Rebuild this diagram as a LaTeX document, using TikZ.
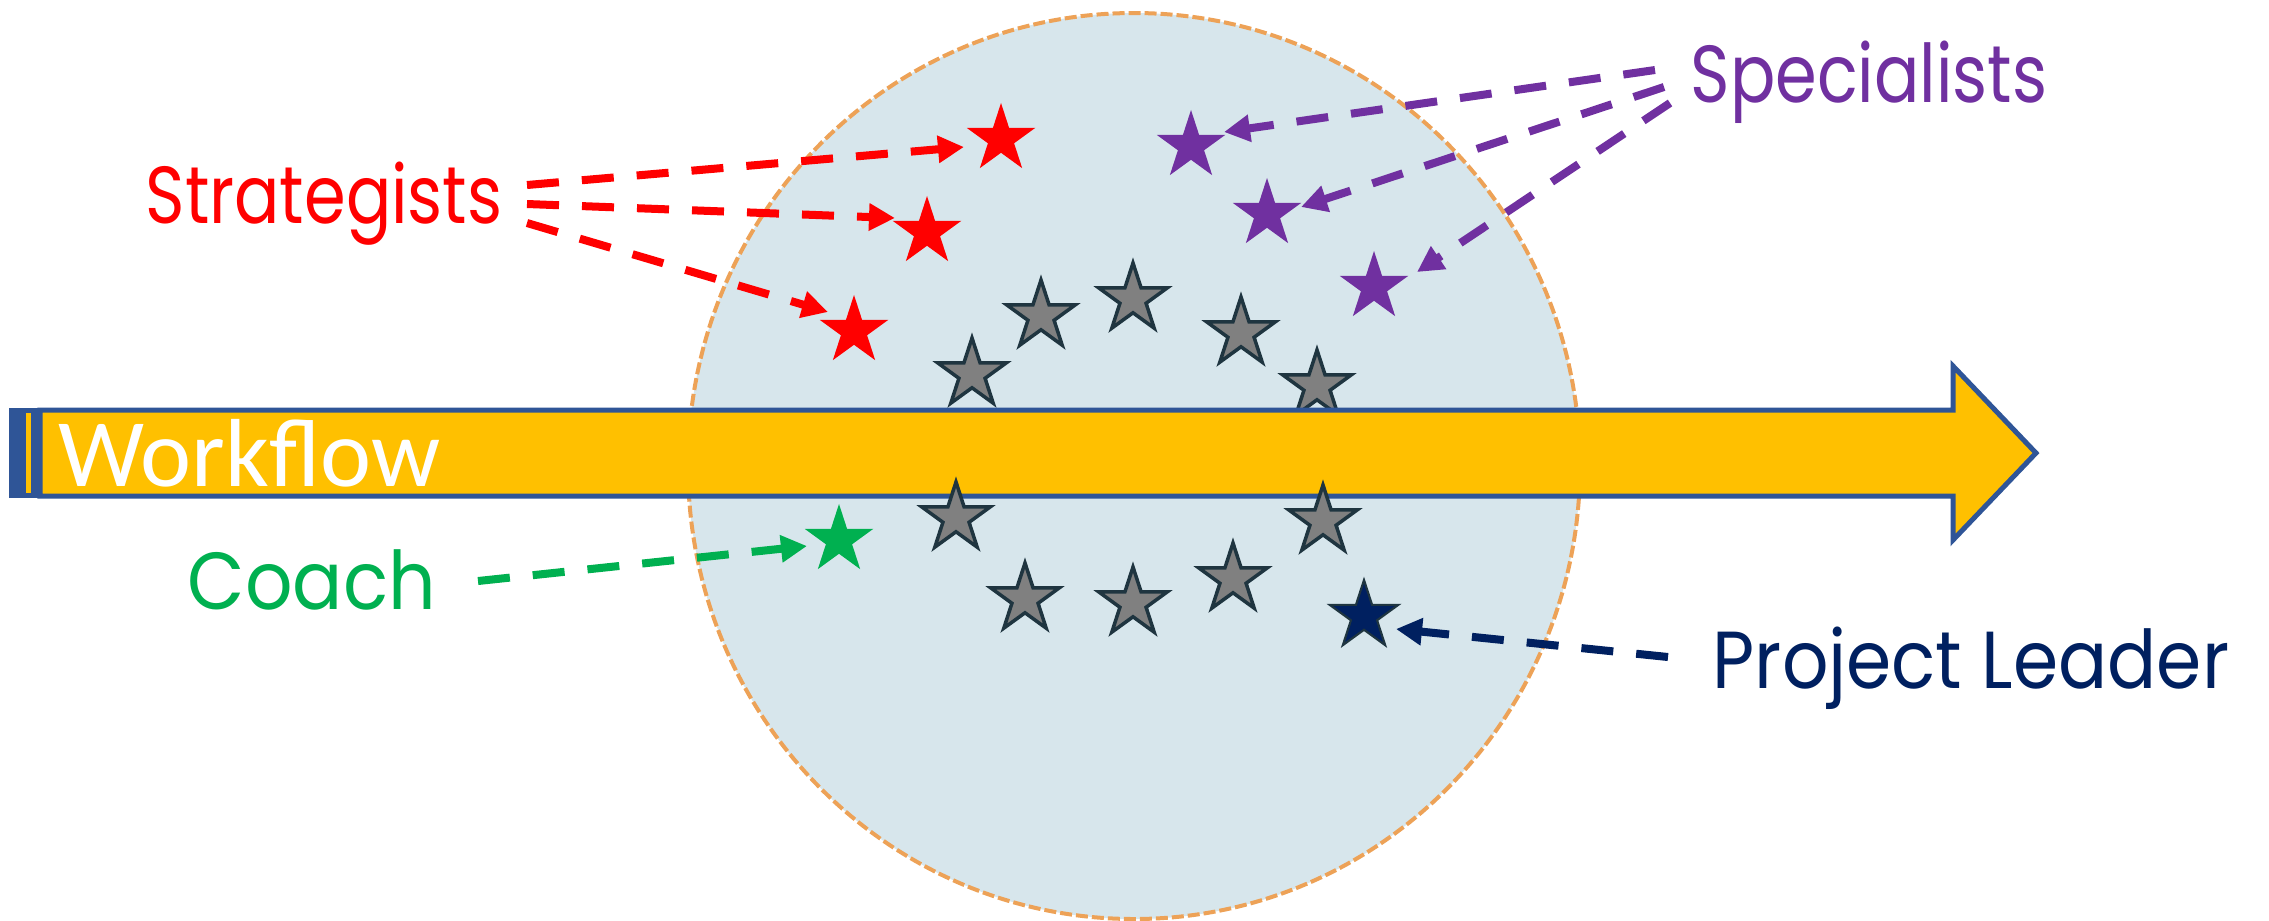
\documentclass[tikz,border=0pt]{standalone}
\usepackage{fontspec}
\newfontfamily\rolefont{Poppins}
\newfontfamily\flowfont{Carlito}
\usetikzlibrary{arrows.meta,shapes.geometric}
\definecolor{teamfill}{HTML}{D7E6EC}
\definecolor{teamedge}{HTML}{EDA257}
\definecolor{flowfill}{HTML}{FFC000}
\definecolor{flowedge}{HTML}{2F5597}
\definecolor{starfill}{HTML}{808080}
\definecolor{staredge}{HTML}{1F3540}
\definecolor{stratred}{HTML}{FF0000}
\definecolor{specpurple}{HTML}{7030A0}
\definecolor{coachgreen}{HTML}{00B050}
\definecolor{leadnavy}{HTML}{002060}
\tikzset{
  every picture/.style={line join=round, line cap=round, >=Stealth},
  star5/.style={star, star points=5, star point ratio=2.618, inner sep=0pt, minimum size=0.72cm},
  greystar/.style={star5, fill=starfill, draw=staredge, line width=1pt, line join=miter},
  rolestar/.style={star5, draw=none},
  flowarrow/.style={fill=flowfill, draw=flowedge, line width=0.05cm, line join=miter},
  flowtext/.style={inner sep=0pt, anchor=base west, text=white, font=\flowfont\fontsize{27.5}{32}\selectfont},
  rolelabel/.style={inner sep=0pt, anchor=base west, font=\rolefont\fontsize{23}{27}\selectfont},
  pointer/.style={-{Triangle[length=0.26cm,width=0.26cm]}, line width=0.08cm, line cap=butt,
    dash pattern=on 0.32cm off 0.23cm},
}
\newcommand{\slim}[2][0.83]{\scalebox{#1}[1]{#2}}

\begin{document}
\begin{tikzpicture}[x=0.01cm,y=-0.01cm]
\useasboundingbox (0,0) rectangle (2269,920);
% team
\draw[fill=teamfill, draw=teamedge, line width=0.04cm, line cap=butt, dash pattern=on 0.12cm off 0.04cm]
  (1134,466) ellipse (446 and 453);
% stars above the flow
\foreach \x/\y [count=\i] in {972/374, 1041/316, 1133/299, 1241/333, 1317/386} {\node[greystar] (u\i) at (\x,\y) {};}
% roles
\node[rolestar, fill=stratred] (r1) at (1001,139) {};
\node[rolestar, fill=stratred] (r2) at (927,232) {};
\node[rolestar, fill=stratred] (r3) at (854,331) {};
\node[rolestar, fill=specpurple] (p1) at (1191,146) {};
\node[rolestar, fill=specpurple] (p2) at (1267,214) {};
\node[rolestar, fill=specpurple] (p3) at (1374,287) {};
\node[rolestar, fill=coachgreen] (c1) at (839,540) {};
\node[star5, fill=leadnavy, draw=staredge, line width=0.6pt, line join=miter] (l1) at (1364,616) {};
% workflow
\fill[flowedge] (9,408) rectangle (42,498);
\fill[flowfill] (26,413) rectangle (31,493);
\draw[flowarrow] (40,410) -- (1953,410) -- (1953,366) -- (2036,453) -- (1953,540) -- (1953,496) -- (40,496) -- cycle;
\node[flowtext] (flow) at (58,486) {Workflow};
% stars below the flow
\foreach \x/\y [count=\i] in {956/518, 1323/521, 1025/599, 1133/603, 1233/579} {\node[greystar] (d\i) at (\x,\y) {};}
% labels
\node[rolelabel, text=stratred] (strat) at (145,223) {\slim{Strategists}};
\node[rolelabel, text=specpurple] (spec) at (1690,102) {\slim{Specialists}};
\node[rolelabel, text=coachgreen] (coach) at (187,609) {\slim[0.92]{Coach}};
\node[rolelabel, text=leadnavy] (lead) at (1712,688) {\slim[0.9]{Project Leader}};
% pointers
\coordinate (sA) at (527,185); \coordinate (sB) at (527,204); \coordinate (sC) at (527,223);
\coordinate (pA) at (1655,70); \coordinate (pB) at (1664,87); \coordinate (pC) at (1670,103);
\coordinate (cA) at (478,581); \coordinate (lA) at (1668,657);
\draw[pointer, stratred] (sA) -- ([shift={(-37,8)}]r1.center);
\draw[pointer, stratred] (sB) -- ([shift={(-32,-14)}]r2.center);
\draw[pointer, stratred] (sC) -- ([shift={(-26,-19)}]r3.center);
\draw[pointer, specpurple] (pA) -- ([shift={(33,-14)}]p1.center);
\draw[pointer, specpurple] (pB) -- ([shift={(34,-7)}]p2.center);
\draw[pointer, specpurple] (pC) -- ([shift={(43,-15)}]p3.center);
\draw[pointer, coachgreen] (cA) -- ([shift={(-32,6)}]c1.center);
\draw[pointer, leadnavy] (lA) -- ([shift={(32,13)}]l1.center);
\end{tikzpicture}
\end{document}
